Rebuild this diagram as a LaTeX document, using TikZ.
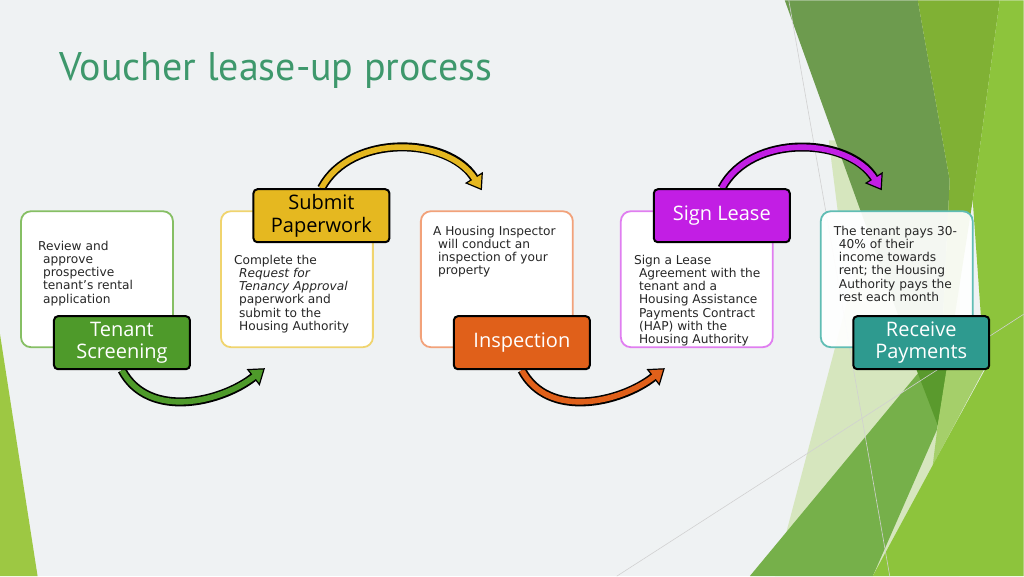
\documentclass[tikz,border=0pt]{standalone}
\usepackage{fontspec}
\setmainfont{DejaVu Sans}
\newfontfamily\titlefont{PT Sans}
\newfontfamily\labelfont{Open Sans}
\usetikzlibrary{arrows.meta,calc}
\pgfdeclarelayer{back}
\pgfdeclarelayer{mid}
\pgfsetlayers{back,mid,main}
\definecolor{bgc}{RGB}{239,242,243}
\definecolor{titlec}{RGB}{62,152,108}
\definecolor{cGreen}{RGB}{78,154,42}
\definecolor{cGreenB}{RGB}{134,191,100}
\definecolor{cGold}{RGB}{229,184,32}
\definecolor{cGoldB}{RGB}{240,212,110}
\definecolor{cOrange}{RGB}{224,96,26}
\definecolor{cOrangeB}{RGB}{242,162,122}
\definecolor{cMag}{RGB}{194,30,228}
\definecolor{cMagB}{RGB}{224,126,240}
\definecolor{cTeal}{RGB}{46,154,143}
\definecolor{cTealB}{RGB}{96,189,180}
\definecolor{fOlive}{RGB}{109,155,78}
\definecolor{fMed}{RGB}{128,177,52}
\definecolor{fBand}{RGB}{118,176,74}
\definecolor{fTip}{RGB}{90,154,45}
\definecolor{fStrip}{RGB}{165,207,106}
\definecolor{fLight}{RGB}{141,196,60}
\definecolor{fPale}{RGB}{214,230,190}
\definecolor{fLeft}{RGB}{157,200,67}
\newcommand{\ind}{\hspace*{5pt}}
\tikzset{
  x=1pt,y=1pt,
  wbox/.style={draw, line width=1.8pt, rounded corners=10pt, fill=white,
    minimum width=152pt, minimum height=136pt, inner sep=0pt},
  lbox/.style={draw=black, line width=2pt, rounded corners=4pt,
    minimum width=136pt, minimum height=53pt, inner sep=0pt, align=center,
    font=\labelfont\fontsize{20}{22.5}\selectfont},
  btext/.style={anchor=north west, inner sep=0pt, align=left,
    font=\fontsize{12.2}{13.1}\selectfont, text=black!85},
  thinline/.style={draw=black!18, line width=0.6pt},
}
\newcommand{\flow}[4]{% color, start, end, angles
  \draw[line width=9pt, black, -{Triangle[length=15pt,width=21pt,fill=#1,color=black,line width=1.2pt]}] #2 to[#4] #3;
  \draw[line width=5.6pt, #1, shorten >=13pt] #2 to[#4] #3;
}
\begin{document}
\begin{tikzpicture}
\begin{pgfonlayer}{back}
\fill[bgc] (0,0) rectangle (1024,576);
\fill[fLeft] (0,242) -- (37.6,0) -- (0,0) -- cycle;
\fill[fPale] (829,436) -- (870,436) -- (870,365) -- (838,365) -- cycle;
\fill[fPale] (861,326) -- (960,326) -- (960,0) -- (775,0) -- cycle;
\fill[fOlive] (785,576) -- (918,576) -- (950,396) -- (938,151) -- cycle;
\fill[fMed] (918,576) -- (1000,576) -- (973,376) -- (945,196) -- (938,151) -- (950,396) -- cycle;
\fill[fBand] (750,0) -- (925,211) -- (950,211) -- (937,146) -- (873,0) -- cycle;
\fill[fTip] (915,211) -- (948,211) -- (938,151) -- cycle;
\fill[fStrip] (947,208) -- (985,208) -- (933,111) -- (938,151) -- cycle;
\fill[fLight] (1000,576) -- (1024,576) -- (1024,0) -- (873,0) -- (933,111) -- (985,206) -- (973,376) -- cycle;
\draw[thinline] (789,576) -- (890,0);
\draw[thinline] (617,0) -- (1024,262);
\end{pgfonlayer}

\node[anchor=base west, inner sep=0pt, text=titlec, font=\titlefont\fontsize{40}{44}\selectfont] (title) at (59,496) {Voucher lease-up process};

% white boxes
\node[wbox, draw=cGreenB] (b1) at (97,297) {};
\node[wbox, draw=cGoldB] (b2) at (297,297) {};
\node[wbox, draw=cOrangeB] (b3) at (497,297) {};
\node[wbox, draw=cMagB] (b4) at (697,297) {};
\node[wbox, draw=cTealB, fill opacity=0.93, text opacity=1] (b5) at (897,297) {};

% box texts
\node[btext] (t1) at (38,335) {Review and\\\ind approve\\\ind prospective\\\ind tenant’s rental\\\ind application};
\node[btext] (t2) at (234,321) {Complete the\\\ind \textit{Request for}\\\ind \textit{Tenancy Approval}\\\ind paperwork and\\\ind submit to the\\\ind Housing Authority};
\node[btext] (t3) at (433,350) {A Housing Inspector\\\ind will conduct an\\\ind inspection of your\\\ind property};
\node[btext] (t4) at (634,321) {Sign a Lease\\\ind Agreement with the\\\ind tenant and a\\\ind Housing Assistance\\\ind Payments Contract\\\ind (HAP) with the\\\ind Housing Authority};
\node[btext] (t5) at (834,350) {The tenant pays 30-\\\ind 40\% of their\\\ind income towards\\\ind rent; the Housing\\\ind Authority pays the\\\ind rest each month};

% labels
\node[lbox, fill=cGreen, text=white] (ts) at (122,233.5) {Tenant\\Screening};
\node[lbox, fill=cGold, text=black] (sp) at (321.5,360.5) {Submit\\Paperwork};
\node[lbox, fill=cOrange, text=white] (in) at (522,233.5) {Inspection};
\node[lbox, fill=cMag, text=white] (sl) at (722,360.5) {Sign Lease};
\node[lbox, fill=cTeal, text=white] (rp) at (921.5,233.5) {Receive\\Payments};

\coordinate (e1) at (265,208);
\coordinate (e2) at (482,386);
\coordinate (e3) at (665,208);
\coordinate (e4) at (882,386);

\begin{pgfonlayer}{mid}
\flow{cGreen}{(ts.south)}{(e1)}{out=-62,in=218}
\flow{cGold}{(sp.north)}{(e2)}{out=62,in=122}
\flow{cOrange}{(in.south)}{(e3)}{out=-62,in=218}
\flow{cMag}{(sl.north)}{(e4)}{out=62,in=122}
\end{pgfonlayer}
\end{tikzpicture}
\end{document}
